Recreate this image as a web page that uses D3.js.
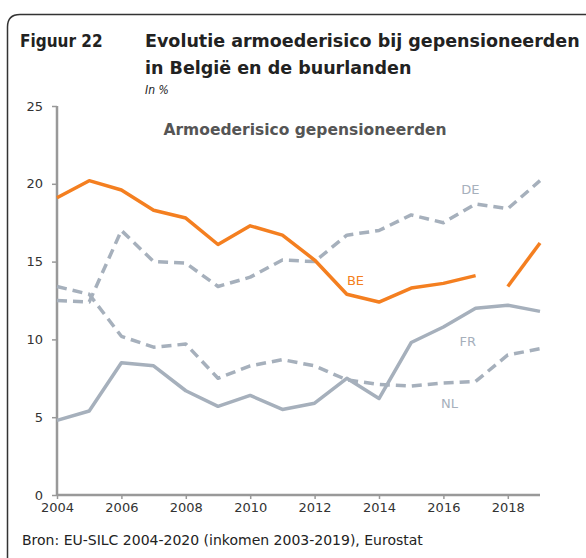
<!DOCTYPE html>
<html>
<head>
<meta charset="utf-8">
<script src="https://cdn.jsdelivr.net/npm/d3@7"></script>
<style>
  body { margin: 0; background: #fff; }
  svg { display: block; font-family: "DejaVu Sans", sans-serif; }
</style>
</head>
<body>
<div id="chart"></div>
<script>
// data (armoederisico gepensioneerden, in %)
const years = d3.range(2004, 2020);
const BE = [19.1, 20.2, 19.6, 18.3, 17.8, 16.1, 17.3, 16.7, 15.1, 12.9, 12.4, 13.3, 13.6, 14.1, 13.4, 16.2];
const DE = [12.5, 12.4, 17.0, 15.0, 14.9, 13.4, 14.0, 15.1, 15.0, 16.7, 17.0, 18.0, 17.5, 18.7, 18.4, 20.2];
const FR = [4.8, 5.4, 8.5, 8.3, 6.7, 5.7, 6.4, 5.5, 5.9, 7.5, 6.2, 9.8, 10.8, 12.0, 12.2, 11.8];
const NL = [13.4, 12.9, 10.2, 9.5, 9.7, 7.5, 8.3, 8.7, 8.3, 7.4, 7.1, 7.0, 7.2, 7.3, 9.0, 9.4];
const beBreak = 2018; // reeksbreuk: geen lijn tussen 2017 en 2018
const yTicks = [0, 5, 10, 15, 20, 25];
const xTicks = [2004, 2006, 2008, 2010, 2012, 2014, 2016, 2018];

const W = 586, H = 558;
const orange = "#f47f20", grey = "#a6b0bc";

const svg = d3.select("#chart").append("svg")
  .attr("width", W).attr("height", H);

// frame with rounded top-left corner
svg.append("path")
  .attr("d", `M7.5,${H + 5} L7.5,27 Q7.5,14.5 20,14.5 L${W + 5},14.5`)
  .attr("fill", "none").attr("stroke", "#333").attr("stroke-width", 1.5);

// titles
svg.append("text").attr("x", 20).attr("y", 47)
  .attr("font-family", "DejaVu Sans Condensed")
  .attr("font-size", 17).attr("font-weight", "bold").attr("fill", "#222")
  .text("Figuur 22");
svg.append("text").attr("x", 145).attr("y", 47)
  .attr("font-size", 17.5).attr("font-weight", "bold").attr("fill", "#222")
  .text("Evolutie armoederisico bij gepensioneerden");
svg.append("text").attr("x", 145).attr("y", 74)
  .attr("font-size", 17.5).attr("font-weight", "bold").attr("fill", "#222")
  .text("in België en de buurlanden");
svg.append("text").attr("x", 145).attr("y", 94)
  .attr("font-family", "DejaVu Sans Condensed")
  .attr("font-size", 12).attr("font-style", "italic").attr("fill", "#222")
  .text("In %");

const x = d3.scaleLinear().domain([2004, 2019]).range([57, 540]);
const y = d3.scaleLinear().domain([0, 25]).range([495, 106]);

// axes
const yAxis = svg.append("g").attr("transform", "translate(57,0)")
  .call(d3.axisLeft(y).tickValues(yTicks).tickSize(5).tickPadding(9));
const xAxis = svg.append("g").attr("transform", "translate(0,495)")
  .call(d3.axisBottom(x).tickValues(xTicks).tickFormat(d3.format("d")).tickSize(4).tickPadding(4));
[yAxis, xAxis].forEach(g => {
  g.select(".domain").attr("stroke", "#999").attr("stroke-width", 2.5);
  g.selectAll(".tick line").attr("stroke", "#999").attr("stroke-width", 1.5);
  g.selectAll(".tick text").attr("fill", "#333").attr("font-size", 13)
    .attr("font-family", "DejaVu Sans, sans-serif");
});
yAxis.select(".domain").attr("d", `M0,${y(25)}V${y(0)}`);
xAxis.select(".domain").attr("d", `M${x(2004)},0H${x(2019)}`);

svg.append("text").attr("x", 305).attr("y", 135).attr("text-anchor", "middle")
  .attr("font-size", 15.5).attr("font-weight", "bold").attr("fill", "#555")
  .text("Armoederisico gepensioneerden");

const line = d3.line()
  .defined(d => d.v != null)
  .x(d => x(d.year)).y(d => y(d.v));

const series = [
  { name: "NL", vals: NL, color: grey, dash: "10,6" },
  { name: "DE", vals: DE, color: grey, dash: "10,6" },
  { name: "FR", vals: FR, color: grey, dash: null },
];
series.forEach(s => {
  svg.append("path")
    .datum(years.map((yr, i) => ({ year: yr, v: s.vals[i] })))
    .attr("d", line)
    .attr("fill", "none").attr("stroke", s.color).attr("stroke-width", 3.5)
    .attr("stroke-dasharray", s.dash).attr("stroke-linejoin", "round");
});

// BE in two pieces because of the break
const beData = years.map((yr, i) => ({ year: yr, v: BE[i] }));
[beData.filter(d => d.year < beBreak), beData.filter(d => d.year >= beBreak)].forEach(part => {
  svg.append("path").datum(part).attr("d", line)
    .attr("fill", "none").attr("stroke", orange).attr("stroke-width", 3.5)
    .attr("stroke-linejoin", "round");
});

// series labels
const labels = [
  { t: "DE", year: 2016.84, v: 19.35, c: grey },
  { t: "BE", year: 2013.27, v: 13.5, c: orange },
  { t: "FR", year: 2016.76, v: 9.58, c: grey },
  { t: "NL", year: 2016.19, v: 5.61, c: grey },
];
svg.selectAll(".lbl").data(labels).enter().append("text")
  .attr("x", d => x(d.year)).attr("y", d => y(d.v))
  .attr("text-anchor", "middle").attr("font-size", 13)
  .attr("fill", d => d.c).text(d => d.t);

svg.append("text").attr("x", 22).attr("y", 545)
  .attr("font-size", 14).attr("fill", "#222")
  .text("Bron: EU-SILC 2004-2020 (inkomen 2003-2019), Eurostat");
</script>
</body>
</html>
